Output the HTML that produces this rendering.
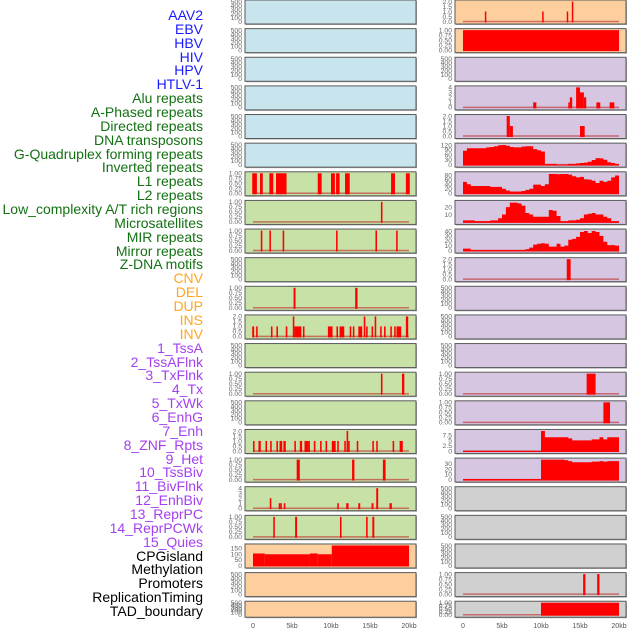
<!DOCTYPE html>
<html><head><meta charset="utf-8"><style>
html,body{margin:0;padding:0;background:#fff;}
#wrap{position:relative;width:630px;height:630px;overflow:hidden;font-family:"Liberation Sans",sans-serif;}
.lbl{position:absolute;right:427px;font-size:14px;line-height:14px;white-space:nowrap;}
svg{position:absolute;left:0;top:0;}
</style></head><body>
<div id="wrap">
<div id="labels"></div>
<svg id="chart" width="630" height="630"></svg>
</div>
<script>
const trackNames=["AAV2","EBV","HBV","HIV","HPV","HTLV-1","Alu repeats","A-Phased repeats","Directed repeats","DNA transposons","G-Quadruplex forming repeats","Inverted repeats","L1 repeats","L2 repeats","Low_complexity A/T rich regions","Microsatellites","MIR repeats","Mirror repeats","Z-DNA motifs","CNV","DEL","DUP","INS","INV","1_TssA","2_TssAFlnk","3_TxFlnk","4_Tx","5_TxWk","6_EnhG","7_Enh","8_ZNF_Rpts","9_Het","10_TssBiv","11_BivFlnk","12_EnhBiv","13_ReprPC","14_ReprPCWk","15_Quies","CPGisland","Methylation","Promoters","ReplicationTiming","TAD_boundary"];
const labelColors=["#1a1aff","#1a1aff","#1a1aff","#1a1aff","#1a1aff","#1a1aff","#137113","#137113","#137113","#137113","#137113","#137113","#137113","#137113","#137113","#137113","#137113","#137113","#137113","#ffa520","#ffa520","#ffa520","#ffa520","#ffa520","#a440f0","#a440f0","#a440f0","#a440f0","#a440f0","#a440f0","#a440f0","#a440f0","#a440f0","#a440f0","#a440f0","#a440f0","#a440f0","#a440f0","#a440f0","#000","#000","#000","#000","#000"];
const xTicks=[0,5,10,15,20];
const xTickLabels=["0","5kb","10kb","15kb","20kb"];
const ticksEmpty=[0,100,200,300,400,500];
const ticks1=[0,0.25,0.5,0.75,1];
const ticks2=[0,0.5,1,1.5,2];
const ticks4=[0,1,2,3,4];
// bar tracks: [start_kb, end_kb, height]
const L7=[[-0.1,0.5,1],[0.9,1.25,1],[2.1,2.6,1],[2.95,4.3,1],[8.3,8.8,1],[10.0,10.5,1],[10.65,11.1,1],[11.8,12.4,1],[17.7,18.2,1],[19.6,20.1,1]];
const L8=[[16.4,16.6,1]];
const L9=[[1.0,1.2,1],[2.1,2.3,1],[3.8,4.0,1],[10.65,10.85,1],[15.7,15.9,1],[18.35,18.55,1]];
const L11=[[5.2,5.45,1],[13.1,13.4,1]];
const L12=[[-0.1,0.15,1],[0.4,0.6,1],[2.3,2.5,1],[3.0,3.2,1],[4.2,4.4,1],[5.1,5.3,2],[5.3,6.2,1],[6.4,6.6,1],[9.6,10.2,1],[10.7,10.9,1],[11.1,11.7,1],[12.4,12.6,1],[12.8,13.0,1],[13.5,14.0,1],[14.2,14.4,2],[14.5,14.7,1],[15.2,15.4,1],[15.6,15.8,2],[16.3,16.5,1],[16.8,17.0,1],[17.6,17.8,1],[18.1,18.3,1],[18.4,19.0,1],[19.6,19.9,2]];
const L14=[[16.4,16.6,1],[19.1,19.4,1]];
const L16=[[0,0.2,1],[0.7,0.85,1],[0.8,1.0,1],[1.6,1.8,1],[2.2,2.4,1],[3.0,3.2,1],[3.4,3.6,1],[3.55,3.75,1],[3.9,4.2,1],[5.3,5.5,1],[6.0,6.3,1],[6.6,7.1,1],[7.1,7.3,1],[7.8,8.0,1],[8.6,8.8,1],[9.3,9.5,1],[10.1,10.5,1],[10.4,10.6,1],[10.8,11.0,1],[11.7,11.9,1],[12.0,12.2,2],[12.2,12.4,1],[13.3,13.5,1],[15.3,15.5,1],[15.8,16.0,1],[17.9,18.1,1],[18.8,19.0,1],[18.95,19.2,1]];
const L17=[[5.6,6.0,1],[12.7,13.0,1],[16.65,17.0,1]];
const L18=[[2.15,2.35,2],[3.3,3.5,1],[3.5,3.7,1],[3.95,4.15,1],[10.8,11.0,1],[11.95,12.25,1],[13.5,13.75,1],[15.2,15.45,1],[15.8,16.05,4],[17.5,17.8,1]];
const L19=[[2.6,2.8,1],[5.4,5.65,1],[11.15,11.35,1],[14.5,14.7,1],[15.3,15.55,1]];
const L20=[[0,1.5,105],[1.5,7.3,98],[7.3,8.3,105],[8.3,10.1,98],[10.1,20,175]];
const R1=[[2.8,2.95,1],[10.15,10.3,1],[13.3,13.45,1],[13.95,14.1,2]];
const R2=[[0,20,1]];
const R4=[[9.0,9.4,1],[13.5,13.7,1],[13.7,14.0,2],[14.5,15.0,4],[15.0,15.5,3],[15.5,15.8,2],[17.1,17.6,1],[18.8,19.4,1]];
const R5=[[5.6,6.0,2],[6.0,6.4,1],[15.0,15.6,1]];
const R10=[[13.3,13.8,2]];
const R14=[[15.85,17.0,1]];
const R15=[[18.0,18.85,1]];
const R21=[[15.4,15.7,1],[17.2,17.5,1]];
const R22=[[10.0,20.0,1]];
// area tracks: values per 0.5kb bin from 0 to 20kb
const R6=[85,100,100,100,100,100,105,108,112,118,120,115,108,105,105,110,112,112,95,88,80,5,5,5,0,0,0,5,5,8,10,12,18,28,40,38,30,15,10,5];
const R7=[50,40,32,32,32,32,32,28,28,28,20,12,8,8,8,10,15,20,38,38,32,40,85,85,84,85,85,82,75,70,72,62,60,55,45,55,50,55,70,78];
const R8=[2,2,2,1,1,1,1,2,2,5,10,20,26,26,25,22,12,10,7,7,7,7,16,15,8,1,1,2,2,3,5,10,11,12,10,10,7,5,1,1];
const R9=[4,4,1,1,1,1,1,1,1,1,1,1,1,1,1,1,3,6,12,14,15,14,8,8,14,8,10,22,24,28,38,40,36,40,38,30,18,11,11,10];
const R16=[0,0,0,0,0,0,0,0,0,0,0,0,0,0,0,0,0,0,0,0,9.5,6.5,6.5,6.5,6.5,6.5,6.5,6,5,5,5,5,5,5.5,5.5,6.5,5.5,6.5,6.5,6.5];
const R17=[1,1,1,1,1,1,1,1,1,1,1,1,1,1,1,1,1,1,1,1,38,38,38,38,38,38,37,35,33,33,33,33,33,34,34,35,34,35,35,35];

const leftTracks=[
 {bg:"#c8e4ec",t:ticksEmpty,max:500},{bg:"#c8e4ec",t:ticksEmpty,max:500},{bg:"#c8e4ec",t:ticksEmpty,max:500},{bg:"#c8e4ec",t:ticksEmpty,max:500},{bg:"#c8e4ec",t:ticksEmpty,max:500},{bg:"#c8e4ec",t:ticksEmpty,max:500},
 {bg:"#c8e1a6",t:ticks1,max:1,bars:L7},{bg:"#c8e1a6",t:ticks1,max:1,bars:L8},{bg:"#c8e1a6",t:ticks1,max:1,bars:L9},{bg:"#c8e1a6",t:ticksEmpty,max:500},{bg:"#c8e1a6",t:ticks1,max:1,bars:L11},{bg:"#c8e1a6",t:ticks2,max:2,bars:L12},{bg:"#c8e1a6",t:ticksEmpty,max:500},{bg:"#c8e1a6",t:ticks1,max:1,bars:L14},{bg:"#c8e1a6",t:ticksEmpty,max:500},{bg:"#c8e1a6",t:ticks2,max:2,bars:L16},{bg:"#c8e1a6",t:ticks1,max:1,bars:L17},{bg:"#c8e1a6",t:ticks4,max:4,bars:L18},{bg:"#c8e1a6",t:ticks1,max:1,bars:L19},
 {bg:"#fecf9e",t:[0,50,100,150],max:175,bars:L20},{bg:"#fecf9e",t:ticksEmpty,max:500},{bg:"#fecf9e",t:ticksEmpty,max:500}];
const rightTracks=[
 {bg:"#fecf9e",t:ticks2,max:2,bars:R1},{bg:"#fecf9e",t:ticks1,max:1,bars:R2},
 {bg:"#d6c6e2",t:ticksEmpty,max:500},{bg:"#d6c6e2",t:ticks4,max:4,bars:R4},{bg:"#d6c6e2",t:ticks2,max:2,bars:R5},
 {bg:"#d6c6e2",t:[0,30,60,90,120],max:122,area:R6},{bg:"#d6c6e2",t:[0,20,40,60,80],max:88,area:R7},{bg:"#d6c6e2",t:[10,20],max:27,area:R8},{bg:"#d6c6e2",t:[0,10,20,30,40],max:41,area:R9},
 {bg:"#d6c6e2",t:ticks2,max:2,bars:R10},{bg:"#d6c6e2",t:ticksEmpty,max:500},{bg:"#d6c6e2",t:ticksEmpty,max:500},{bg:"#d6c6e2",t:ticksEmpty,max:500},
 {bg:"#d6c6e2",t:ticks1,max:1,bars:R14},{bg:"#d6c6e2",t:ticks1,max:1,bars:R15},{bg:"#d6c6e2",t:[0,2.5,5,7.5],max:9.5,area:R16},{bg:"#d6c6e2",t:[0,10,20,30],max:38,area:R17},
 {bg:"#d0d0d0",t:ticksEmpty,max:500},{bg:"#d0d0d0",t:ticksEmpty,max:500},{bg:"#d0d0d0",t:ticksEmpty,max:500},{bg:"#d0d0d0",t:ticks1,max:1,bars:R21},{bg:"#d0d0d0",t:ticks1,max:1,bars:R22}];

const NS="http://www.w3.org/2000/svg";
const svg=document.getElementById("chart");
const labels=document.getElementById("labels");
trackNames.forEach((n,i)=>{
 const d=document.createElement("div");
 d.className="lbl";d.textContent=n;d.style.color=labelColors[i];
 d.style.top=(8+i*13.86)+"px";
 
 
 labels.appendChild(d);
});
function mk(tag,attrs,parent){const e=document.createElementNS(NS,tag);for(const k in attrs)e.setAttribute(k,attrs[k]);(parent||svg).appendChild(e);return e;}
function fmt(v,ticks){const m=ticks[ticks.length-1];if(m===1)return v.toFixed(2);if(m===2)return v.toFixed(1);return String(v);}
function drawPanel(tr,col,i){
 const px=col===0?245:455, pw=171;
 const top=i*28.63, h=i===21?16:24;
 const x=kb=>px+8+kb*7.8;
 const base=top+h-2.5, ytop=top+1.5;
 const y=v=>base-(v/tr.max)*(base-ytop);
 const g=mk("g",{});
 
 
 mk("rect",{x:px+1,y:top+1,width:pw,height:h,fill:"#a8a8a8"},g);
 mk("rect",{x:px,y:top,width:pw,height:h,fill:tr.bg,stroke:"#5a5a5a","stroke-width":1},g);
 tr.t.forEach(v=>{
  const tt=mk("text",{x:px-3,y:y(v)+2.3,"font-size":6.8,"text-anchor":"end",fill:"#666"},g);
  tt.textContent=fmt(v,tr.t);
  
  
 });
 if(tr.bars||tr.area){
  mk("line",{x1:x(0),x2:x(20),y1:base,y2:base,stroke:"#c04040","stroke-width":1.5,"stroke-opacity":0.7},g);
 }
 if(tr.bars){
  tr.bars.forEach(b=>{
   const r=mk("rect",{x:x(b[0]),y:y(b[2]),width:Math.max(1.5,x(b[1])-x(b[0])),height:base-y(b[2])+1,fill:"#ff0000"},g);
   
   
  });
 }
 if(tr.area){
  let d="M"+x(0)+","+(base+1);
  tr.area.forEach((v,k)=>{d+=" L"+x(k*0.5)+","+y(v)+" L"+x(k*0.5+0.5)+","+y(v);});
  d+=" L"+x(20)+","+(base+1)+" Z";
  const p=mk("path",{d:d,fill:"#ff0000"},g);
  
  
 }
 if(i===21){
  xTicks.forEach((v,k)=>{
   const t=mk("text",{x:x(v),y:628,"font-size":7,"text-anchor":"middle",fill:"#555"},svg);
   t.textContent=xTickLabels[k];
   
   
  });
 }
}
leftTracks.forEach((t,i)=>drawPanel(t,0,i));
rightTracks.forEach((t,i)=>drawPanel(t,1,i));
</script>
</body></html>
